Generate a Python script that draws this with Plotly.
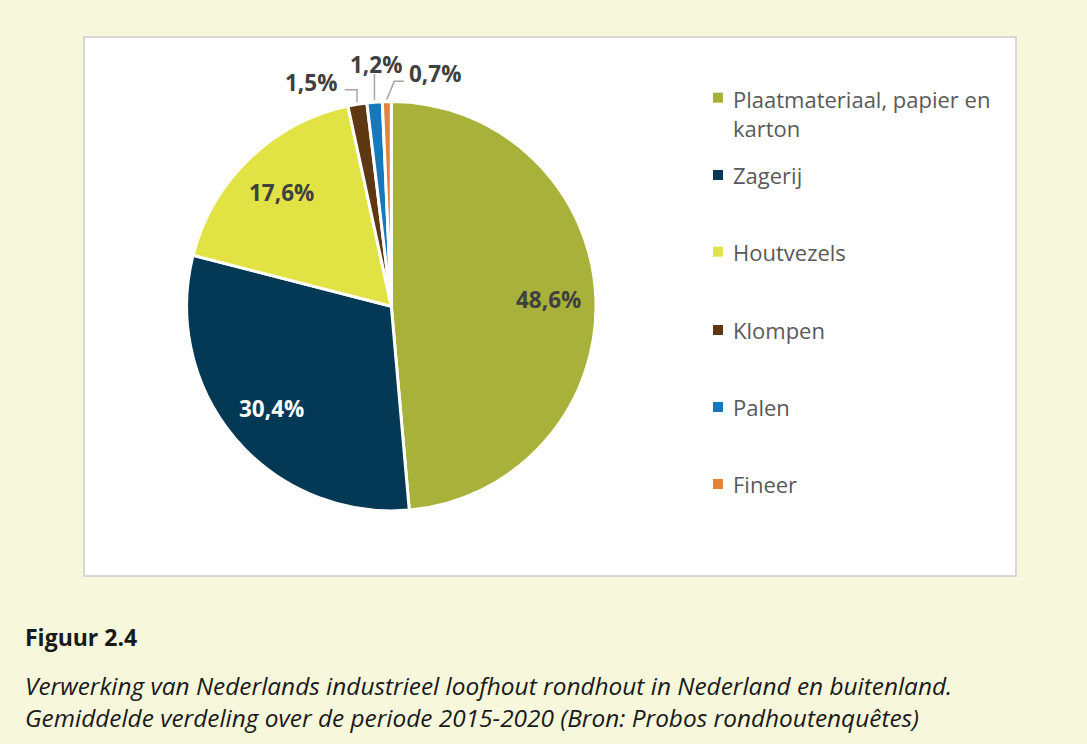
import math
import plotly.graph_objects as go

# ---------------- data ----------------
categories = ["Plaatmateriaal, papier en karton", "Zagerij", "Houtvezels",
              "Klompen", "Palen", "Fineer"]
legend_labels = ["Plaatmateriaal, papier en<br>karton", "Zagerij", "Houtvezels",
                 "Klompen", "Palen", "Fineer"]
shares = [48.6, 30.4, 17.6, 1.5, 1.2, 0.7]
colors = ["#A8B23A", "#043955", "#E1E244", "#5E3713", "#1679BE", "#E0853A"]
caption_title = "Figuur 2.4"
caption_lines = ["Verwerking van Nederlands industrieel loofhout rondhout in Nederland en buitenland.",
                 "Gemiddelde verdeling over de periode 2015-2020 (Bron: Probos rondhoutenquêtes)"]

# ---------------- layout constants (pixels) ----------------
W, H = 1087, 744
BG = "#F6F7DB"
FONT = "Open Sans"
CX, CY, R = 391.3, 306.2, 204.7          # pie centre / radius in px
INSIDE_FACTOR = 0.77
inside_colors = ["#404040", "#FFFFFF", "#404040"]
# outside label offsets from slice-edge point, and leader elbow offsets
outside_style = {
    3: dict(label=(-45.6, -20.3), path=[(0, -12.6), (-12.3, -12.6)]),
    4: dict(label=(1.4, -35.2), path=[(0, -26.2)]),
    5: dict(label=(48.7, -26.5), path=[(7.5, -18.2), (17.2, -18.2)]),
}
LEG_X, LEG_SQ = 713, 10
leg_centres = [97.7, 175, 251.7, 330, 407, 484]


def px(x):
    return x / W


def py(y):
    return 1 - y / H


fig = go.Figure()

fig.add_trace(go.Pie(
    labels=categories,
    values=shares,
    sort=False,
    direction="clockwise",
    rotation=0,
    marker=dict(colors=colors, line=dict(color="white", width=3)),
    textinfo="none",
    hoverinfo="label+percent",
    showlegend=False,
    domain=dict(x=[px(CX - R), px(CX + R)], y=[py(CY + R), py(CY - R)]),
))

annotations = []
shapes = []

# white chart area
shapes.append(dict(type="rect", xref="paper", yref="paper",
                   x0=px(84), x1=px(1016), y0=py(576), y1=py(37),
                   fillcolor="white", line=dict(color="#D6D6D6", width=2),
                   layer="below"))

# data labels computed from the shares
total = sum(shares)
cum = 0.0
for i, v in enumerate(shares):
    a0 = cum / total * 360
    cum += v
    a1 = cum / total * 360
    mid = math.radians((a0 + a1) / 2)
    txt = f"{v:.1f}".replace(".", ",") + "%"
    if i < 3:
        r = R * INSIDE_FACTOR
        x = CX + r * math.sin(mid)
        y = CY - r * math.cos(mid)
        annotations.append(dict(x=px(x), y=py(y), xref="paper", yref="paper",
                                text=f"<b>{txt}</b>", showarrow=False,
                                font=dict(family=FONT, size=22.5, color=inside_colors[i]),
                                xanchor="center", yanchor="middle"))
    else:
        st = outside_style[i]
        ex = CX + (R + 2) * math.sin(mid)
        ey = CY - (R + 2) * math.cos(mid)
        lx, ly = ex + st["label"][0], ey + st["label"][1]
        annotations.append(dict(x=px(lx), y=py(ly), xref="paper", yref="paper",
                                text=f"<b>{txt}</b>", showarrow=False,
                                font=dict(family=FONT, size=22.5, color="#404040"),
                                xanchor="center", yanchor="middle"))
        pts = [(ex, ey)] + [(ex + dx, ey + dy) for dx, dy in st["path"]]
        path = "M " + " L ".join(f"{px(a):.5f},{py(b):.5f}" for a, b in pts)
        shapes.append(dict(type="path", xref="paper", yref="paper", path=path,
                           line=dict(color="#A6A6A6", width=1.5)))

# legend built from categories/colours
for lab, col, yc in zip(legend_labels, colors, leg_centres):
    shapes.append(dict(type="rect", xref="paper", yref="paper",
                       x0=px(LEG_X), x1=px(LEG_X + LEG_SQ),
                       y0=py(yc + LEG_SQ / 2), y1=py(yc - LEG_SQ / 2),
                       fillcolor=col, line=dict(width=0)))
    multi = "<br>" in lab
    annotations.append(dict(x=px(LEG_X + 18), y=py(yc - 15.5) if multi else py(yc),
                            xref="paper", yref="paper", text=lab, showarrow=False,
                            align="left", xanchor="left",
                            yanchor="top" if multi else "middle",
                            font=dict(family=FONT, size=22, color="#595959")))

# caption
annotations.append(dict(x=px(23), y=py(637), xref="paper", yref="paper",
                        text=f"<b>{caption_title}</b>", showarrow=False,
                        xanchor="left", yanchor="middle",
                        font=dict(family=FONT, size=23, color="#1A1A1A")))
for yy, line in zip([685, 717], caption_lines):
    annotations.append(dict(x=px(23), y=py(yy), xref="paper", yref="paper",
                            text=f"<i>{line}</i>", showarrow=False,
                            xanchor="left", yanchor="middle",
                            font=dict(family=FONT, size=24.4, color="#1A1A1A")))

fig.update_layout(
    width=W, height=H,
    margin=dict(l=0, r=0, t=0, b=0),
    paper_bgcolor=BG, plot_bgcolor=BG,
    shapes=shapes, annotations=annotations,
    showlegend=False,
)

fig.write_html("out.html",
               config={"displayModeBar": False},
               post_script="document.body.style.margin='0';"
                           "document.body.style.background='" + BG + "';")
